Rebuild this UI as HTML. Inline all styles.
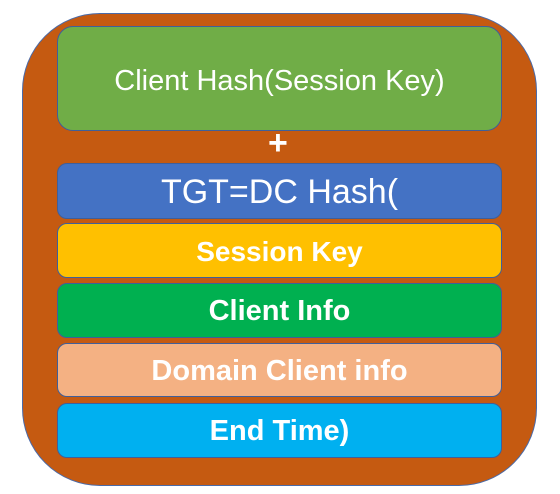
<!DOCTYPE html>
<html><head><style>
body{margin:0;width:560px;height:494px;background:#fff;position:relative;overflow:hidden;font-family:"Liberation Sans","Noto Sans CJK SC",sans-serif;}
.o{position:absolute;left:22px;top:13px;width:515px;height:473px;background:#c55a11;border:1px solid #4a6aa8;border-radius:78px;box-sizing:border-box;}
.b{position:absolute;left:57px;width:445px;border:1px solid #3f5f9a;box-sizing:border-box;border-radius:10px;color:#fff;display:flex;align-items:center;justify-content:center;font-weight:bold;font-size:29px;padding-top:2px;}
</style></head><body>
<div class="o"></div>
<div class="b" style="top:26px;height:105px;background:#70ad47;border-radius:16px;font-weight:normal;font-size:29px;padding-top:6px;">Client Hash(Session Key)</div>
<div style="position:absolute;left:268px;top:124px;color:#fff;font-size:34px;font-weight:bold;">+</div>
<div class="b" style="top:163px;height:56px;background:#4472c4;font-size:34px;font-weight:normal;">TGT=DC Hash(</div>
<div class="b" style="top:223px;height:55px;background:#ffc000;font-size:28px;">Session Key</div>
<div class="b" style="top:283px;height:55px;background:#00b050;">Client Info</div>
<div class="b" style="top:343px;height:54px;background:#f4b183;">Domain Client info</div>
<div class="b" style="top:403px;height:55px;background:#00b0f0;">End Time)</div>
</body></html>
